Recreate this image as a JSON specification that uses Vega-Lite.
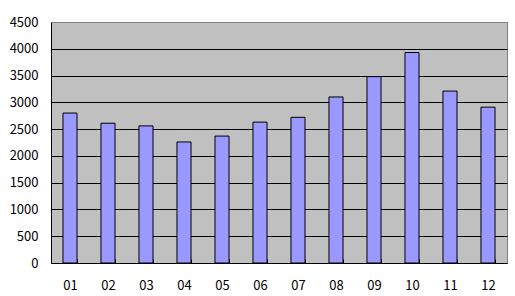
{
  "$schema": "https://vega.github.io/schema/vega-lite/v6.json",
  "autosize": {"type": "none"},
  "padding": {"left": 51, "top": 22, "right": 8, "bottom": 33},
  "width": 456,
  "height": 241,
  "background": "white",
  "data": {"values": [
    {"month": "01", "value": 2800},
    {"month": "02", "value": 2610},
    {"month": "03", "value": 2560},
    {"month": "04", "value": 2260},
    {"month": "05", "value": 2370},
    {"month": "06", "value": 2630},
    {"month": "07", "value": 2720},
    {"month": "08", "value": 3100},
    {"month": "09", "value": 3480},
    {"month": "10", "value": 3930},
    {"month": "11", "value": 3210},
    {"month": "12", "value": 2910}
  ]},
  "mark": {"type": "bar", "fill": "#9999FF", "stroke": "black", "strokeWidth": 1},
  "encoding": {
    "x": {
      "field": "month", "type": "ordinal", "sort": null,
      "scale": {"paddingInner": 0.63, "paddingOuter": 0.315},
      "axis": {
        "title": null, "labelAngle": 0, "domainColor": "black", "domainWidth": 1,
        "tickBand": "extent", "tickColor": "black", "tickSize": -4,
        "labelPadding": 20, "labelFont": "Noto Sans CJK SC", "labelFontSize": 13,
        "labelColor": "black", "grid": false
      }
    },
    "y": {
      "field": "value", "type": "quantitative",
      "scale": {"domain": [0, 4500], "nice": false},
      "axis": {
        "title": null, "format": "d", "values": [0, 500, 1000, 1500, 2000, 2500, 3000, 3500, 4000, 4500],
        "grid": true, "gridColor": {"condition": {"test": "datum.value == 4500", "value": "#808080"}, "value": "black"},
        "gridOpacity": 1, "gridWidth": 1,
        "domainColor": "black", "ticks": false, "labelPadding": 13,
        "labelFont": "Noto Sans CJK SC", "labelFontSize": 13, "labelColor": "black"
      }
    }
  },
  "config": {
    "view": {"fill": "#C0C0C0", "stroke": "#808080", "strokeWidth": 1}
  }
}
